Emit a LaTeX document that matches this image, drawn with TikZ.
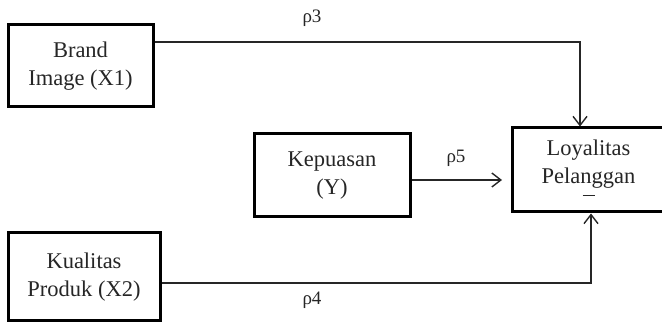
\documentclass[tikz,border=0pt]{standalone}
\usepackage{fontspec}
\setmainfont{Liberation Serif}
\usetikzlibrary{arrows.meta}
\begin{document}
\begin{tikzpicture}[x=1pt,y=-1pt,
  var/.style={draw=black,line width=3pt,rectangle,inner sep=0pt,align=center,
    font=\fontsize{22.5}{28}\selectfont,text=black!85},
  link/.style={line width=1.4pt,draw=black!85,-{Straight Barb[length=9pt,width=14pt,line width=1.4pt]}},
  coef/.style={font=\fontsize{19}{22}\selectfont,text=black!85}]
\useasboundingbox (0,0) rectangle (662,323);
% variable boxes
\node[var,minimum width=145pt,minimum height=82pt] (bi) at (80.5,66) {Brand\\Image (X1)};
\node[var,minimum width=156pt,minimum height=83pt] (kp) at (332,175.5) {Kepuasan\\(Y)};
\node[var,minimum width=152pt,minimum height=84pt,anchor=west] (lp) at (511,170) {Loyalitas\\Pelanggan\\[-12pt]\rule[4pt]{12pt}{1pt}};
\node[var,minimum width=152pt,minimum height=88pt] (kq) at (84,277) {Kualitas\\Produk (X2)};
% connectors
\coordinate (tr) at (580,42);
\coordinate (br) at (591,283);
\draw[link] (bi.east |- tr) -- (tr) -- (tr |- lp.north);
\draw[link] (kq.east |- br) -- (br) -- (br |- lp.south);
\draw[link] (kp.east |- 0,180) -- (502,180);
% path coefficients
\node[coef] (p3) at (312,18) {ρ3};
\node[coef] (p5) at (456,158) {ρ5};
\node[coef] (p4) at (312,300) {ρ4};
\end{tikzpicture}
\end{document}
